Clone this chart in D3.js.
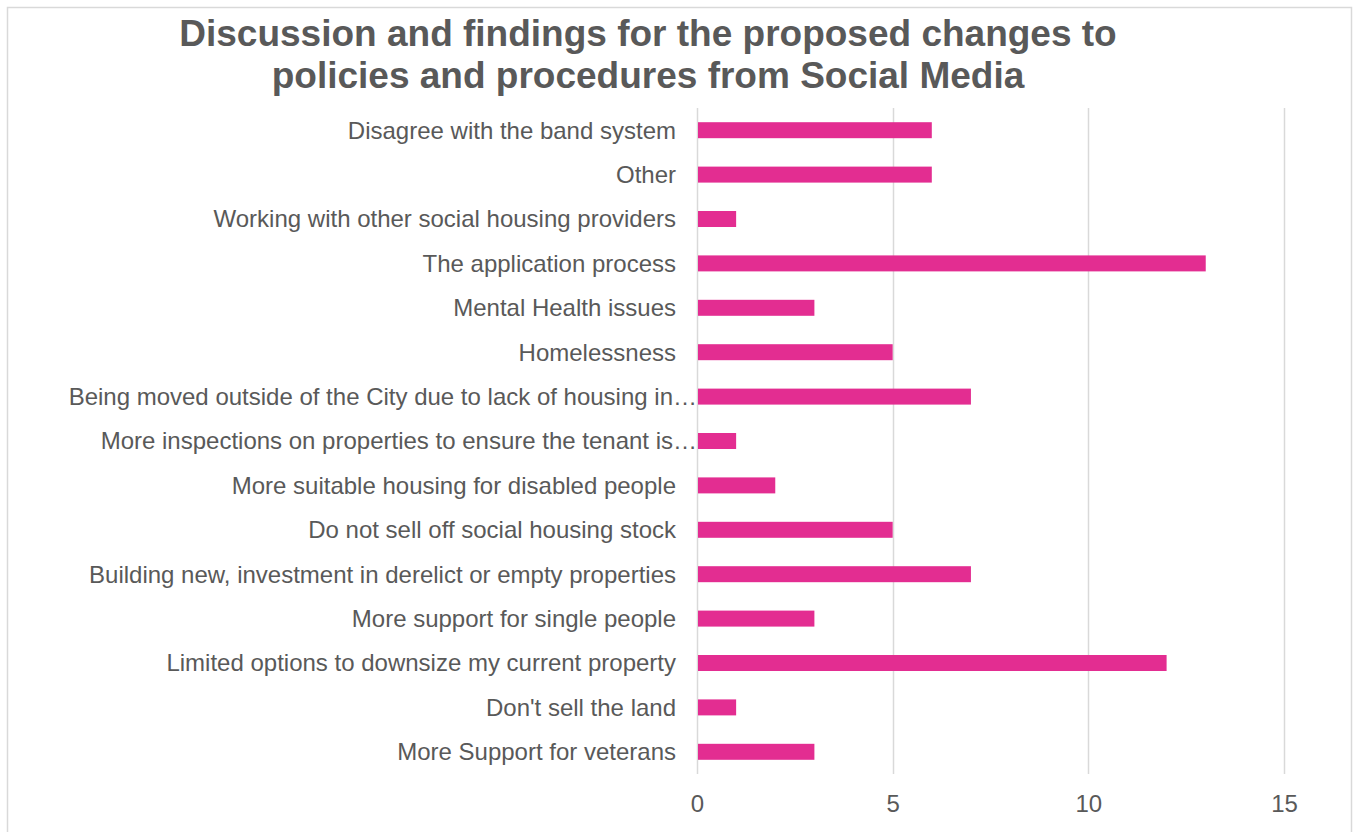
<!DOCTYPE html>
<html>
<head>
<meta charset="utf-8">
<script src="https://cdn.jsdelivr.net/npm/d3@7"></script>
<style>
  html, body { margin: 0; padding: 0; background: #fff; }
  svg { display: block; }
  text { font-family: "Liberation Sans", Arial, sans-serif; fill: #595959; }
</style>
</head>
<body>
<svg id="chart" width="1357" height="832"></svg>
<script>
// Survey themes, listed top to bottom
const categories = [
  "Disagree with the band system",
  "Other",
  "Working with other social housing providers",
  "The application process",
  "Mental Health issues",
  "Homelessness",
  "Being moved outside of the City due to lack of housing in…",
  "More inspections on properties to ensure the tenant is…",
  "More suitable housing for disabled people",
  "Do not sell off social housing stock",
  "Building new, investment in derelict or empty properties",
  "More support for single people",
  "Limited options to downsize my current property",
  "Don't sell the land",
  "More Support for veterans"
];
const counts = [6, 6, 1, 13, 3, 5, 7, 1, 2, 5, 7, 3, 12, 1, 3];
const tickValues = [0, 5, 10, 15];
const titleLines = [
  "Discussion and findings for the proposed changes to",
  "policies and procedures from Social Media"
];

const svg = d3.select("#chart");

// chart frame
svg.append("rect")
  .attr("x", 7.5).attr("y", 7.5)
  .attr("width", 1344).attr("height", 840)
  .attr("fill", "#fff")
  .attr("stroke", "#d9d9d9").attr("stroke-width", 1.5);

const plot = { left: 697, right: 1284, top: 108, bottom: 774 };

const x = d3.scaleLinear().domain([0, 15]).range([plot.left, plot.right]);
const y = d3.scaleBand()
  .domain(categories)
  .range([plot.top, plot.bottom])
  .paddingInner(0.64)
  .paddingOuter(0.32);

// vertical gridlines
svg.append("g")
  .selectAll("line")
  .data(tickValues)
  .join("line")
  .attr("x1", d => Math.round(x(d)) + 0.5)
  .attr("x2", d => Math.round(x(d)) + 0.5)
  .attr("y1", plot.top)
  .attr("y2", plot.bottom)
  .attr("stroke", "#d9d9d9")
  .attr("stroke-width", 1.5);

// bars
svg.append("g")
  .selectAll("rect")
  .data(categories.map((c, i) => ({ c, v: counts[i] })))
  .join("rect")
  .attr("x", x(0) + 1)
  .attr("y", d => y(d.c))
  .attr("width", d => x(d.v) - x(0) - 1)
  .attr("height", y.bandwidth())
  .attr("fill", "#e32d91");

// category labels (clipped ones run up to the axis)
svg.append("g")
  .selectAll("text")
  .data(categories)
  .join("text")
  .attr("x", d => d.endsWith("…") ? plot.left : plot.left - 21)
  .attr("y", d => y(d) + y.bandwidth() / 2)
  .attr("dy", "0.35em")
  .attr("text-anchor", "end")
  .attr("font-size", "24px")
  .text(d => d);

// x axis tick labels
const xAxis = d3.axisBottom(x).tickValues(tickValues).tickSize(0).tickPadding(0);
const gx = svg.append("g")
  .attr("transform", "translate(0,812)")
  .call(xAxis);
gx.select(".domain").remove();
gx.selectAll("text")
  .attr("font-size", "24px")
  .attr("font-family", "Liberation Sans, Arial, sans-serif")
  .attr("fill", "#595959")
  .attr("dy", 0);

// title
svg.append("text")
  .attr("text-anchor", "middle")
  .attr("font-size", "37px")
  .attr("font-weight", "bold")
  .selectAll("tspan")
  .data(titleLines)
  .join("tspan")
  .attr("x", 648)
  .attr("y", (d, i) => 46 + i * 42)
  .text(d => d);
</script>
</body>
</html>
